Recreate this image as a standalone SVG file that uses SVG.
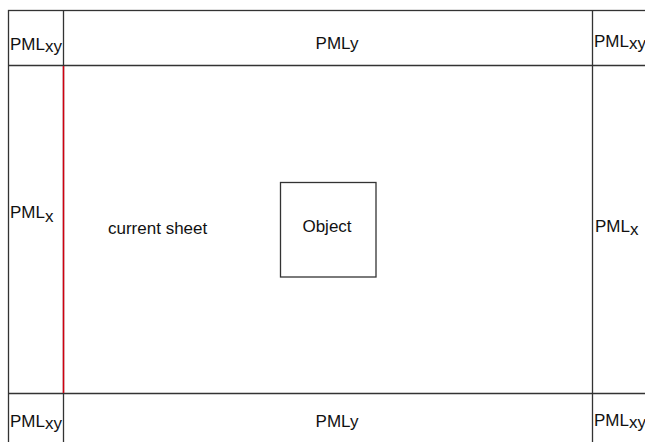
<svg xmlns="http://www.w3.org/2000/svg" width="645" height="442" viewBox="0 0 645 442">
<style>
.ln{stroke:#333;stroke-width:1.3;fill:none}
.t{font-family:"Liberation Sans",Arial,sans-serif;font-size:17px;fill:#111}
</style>
<rect width="645" height="442" fill="#fff"/>
<g id="grid">
<rect class="ln" x="8.5" y="10.5" width="700" height="500"/>
<line class="ln" x1="8" y1="65.5" x2="645" y2="65.5"/>
<line class="ln" x1="8" y1="393.5" x2="645" y2="393.5"/>
<line class="ln" x1="63.5" y1="10" x2="63.5" y2="442"/>
<line class="ln" x1="592.5" y1="10" x2="592.5" y2="442"/>
</g>
<g id="pml-xy-tl"><text class="t" x="10" y="50">PML<tspan dy="2">xy</tspan></text></g>
<g id="pml-y-top"><text class="t" x="337" y="49" text-anchor="middle">PMLy</text></g>
<g id="pml-xy-tr"><text class="t" x="594" y="47">PML<tspan dy="2">xy</tspan></text></g>
<g id="pml-x-left"><text class="t" x="10" y="218">PML<tspan dy="4">x</tspan></text></g>
<g id="pml-x-right"><text class="t" x="595" y="232">PML<tspan dy="3">x</tspan></text></g>
<g id="pml-xy-bl"><text class="t" x="10" y="427">PML<tspan dy="2">xy</tspan></text></g>
<g id="pml-y-bottom"><text class="t" x="337" y="427" text-anchor="middle">PMLy</text></g>
<g id="pml-xy-br"><text class="t" x="594" y="426">PML<tspan dy="2">xy</tspan></text></g>
<g id="current-sheet"><text class="t" x="108" y="234">current sheet</text></g>
<g id="object">
<rect class="ln" x="280.5" y="182.5" width="95.5" height="94.5"/>
<text class="t" x="327" y="232" text-anchor="middle">Object</text>
</g>
<g id="connectors">
<line x1="63.5" y1="66" x2="63.5" y2="393" stroke="#d00010" stroke-width="1.5"/>
</g>
</svg>
